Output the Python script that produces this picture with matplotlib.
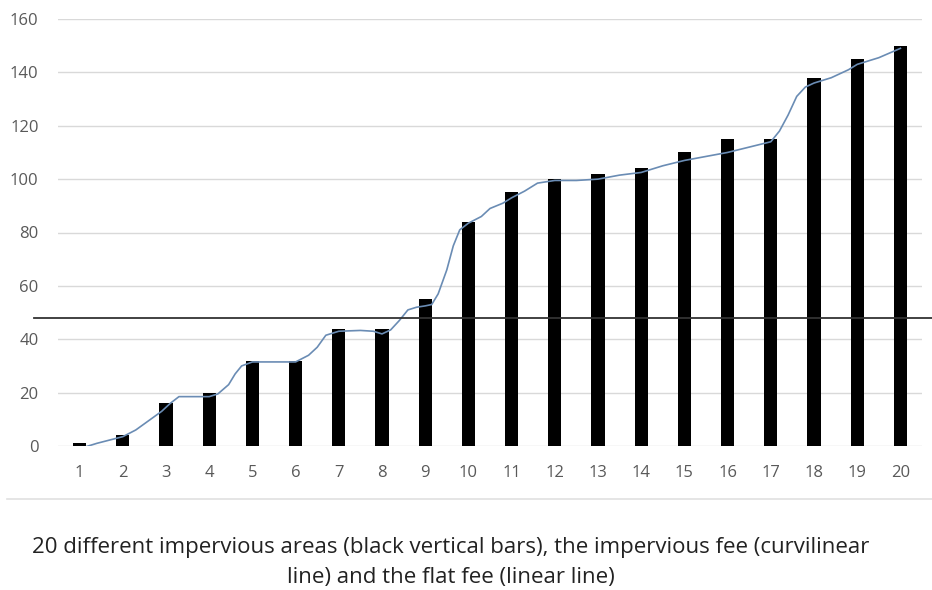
import matplotlib
matplotlib.use('Agg')
import matplotlib.pyplot as plt

# impervious areas (black bars)
area_ids = list(range(1, 21))
area_vals = [1, 4, 16, 20, 32, 32, 44, 44, 55, 84, 95, 100, 102, 104, 110, 115, 115, 138, 145, 150]

# impervious fee curve
fee_x = [1, 1.4, 2, 2.3, 2.6, 2.9, 3.1, 3.3, 3.6, 4, 4.2, 4.45, 4.6, 4.75, 5, 5.5, 6, 6.3, 6.5, 6.7, 7, 7.5, 7.8, 8, 8.2, 8.4,
         8.6, 8.8, 9, 9.15, 9.3, 9.5, 9.65, 9.8, 10, 10.3, 10.5, 10.8, 11, 11.3, 11.6, 12, 12.5, 13, 13.5, 14, 14.5,
         15, 15.5, 16, 16.5, 17, 17.2, 17.4, 17.6, 17.8, 18, 18.4, 18.8, 19, 19.5, 20]
fee_y = [-1, 1, 3.5, 6, 9.5, 13, 16, 18.5, 18.5, 18.5, 19.5, 23, 27, 30, 31.5, 31.5, 31.5, 34, 37, 41.5, 43, 43.3, 43, 42,
         43.5, 47, 51, 52, 52.5, 53, 57, 66, 75, 81, 83.5, 86, 89, 91, 93, 95.5, 98.5, 99.5, 99.5, 100, 101.5, 102.5,
         105, 107, 108.5, 110, 112, 114, 118, 124, 131, 134.5, 136, 138, 141, 143, 145.5, 149]

flat_fee = 48

plt.rcParams['font.family'] = ['Open Sans', 'DejaVu Sans']

fig = plt.figure(figsize=(9.32, 5.9), dpi=100)
ax = fig.add_axes([58 / 932, 144 / 590, 864 / 932, 427 / 590])

ax.bar(area_ids, area_vals, width=0.31, color='black', zorder=3)
ax.plot(fee_x, fee_y, color='#6a8cb4', lw=1.2, zorder=4)
ax.axhline(flat_fee, xmin=-0.028, xmax=1.02, color='#333333', lw=1.3, clip_on=False, zorder=5)

ax.set_xlim(0.5, 20.5)
ax.set_ylim(0, 160)
ax.set_yticks(range(0, 161, 20))
ax.set_xticks(area_ids)
ax.grid(axis='y', color='#d9d9d9', lw=1, zorder=0)
ax.set_axisbelow(True)
for s in ax.spines.values():
    s.set_visible(False)
ax.tick_params(length=0, colors='#595959', labelsize=12)
ax.tick_params(axis='x', pad=14)
ax.tick_params(axis='y', pad=14)

# separator under the chart
fig.add_artist(plt.Line2D([7 / 932, 1], [1 - 499 / 590] * 2, color='#e0e0e0', lw=1.2))

fig.text(451 / 932, 1 - 548 / 590, '20 different impervious areas (black vertical bars), the impervious fee (curvilinear',
         ha='center', va='center', fontsize=16, color='#222222')
fig.text(451 / 932, 1 - 578 / 590, 'line) and the flat fee (linear line)',
         ha='center', va='center', fontsize=16, color='#222222')

fig.savefig('out.png', dpi=100, facecolor='white')
